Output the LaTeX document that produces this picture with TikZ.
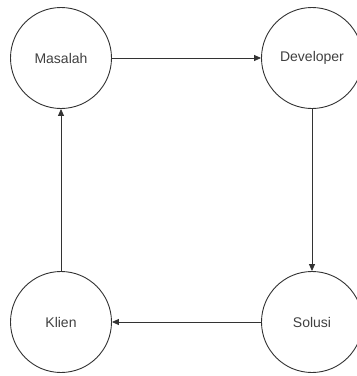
\documentclass[tikz,border=0pt]{standalone}
\usepackage{fontspec}
\setmainfont{Liberation Sans}
\usetikzlibrary{arrows.meta}
\begin{document}
\begin{tikzpicture}[x=1pt,y=-1pt,
  state/.style={circle,draw=black!80,line width=0.9pt,minimum size=101pt,inner sep=0pt,font=\fontsize{14}{16}\selectfont,text=black!75},
  link/.style={draw=black!80,line width=0.8pt,-{Triangle[length=7pt,width=6pt]}}]
\useasboundingbox (0,0) rectangle (357,376);
\node[state] (m) at (61,58) {Masalah};
\node[state] (d) at (312,58) {Developer};
\node[state] (s) at (312,322) {Solusi};
\node[state] (k) at (61,322) {Klien};
\draw[link] (m) -- (d);
\draw[link] (d) -- (s);
\draw[link] (s) -- (k);
\draw[link] (k) -- (m);
\end{tikzpicture}
\end{document}
